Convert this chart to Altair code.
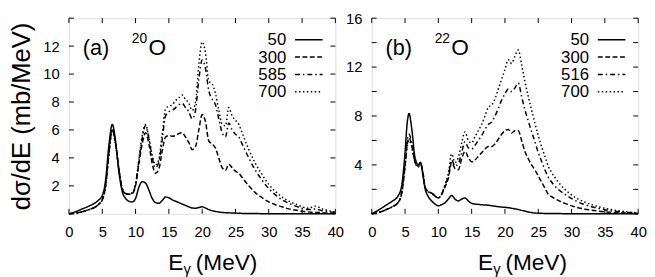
import altair as alt
import pandas as pd

FONT = "Liberation Sans"

# ---------------- data ----------------
E_A = [0, 1, 2, 3, 4, 4.5, 5, 5.5, 6, 6.5, 7, 7.5, 8, 8.5, 9, 9.5, 10, 10.5, 11, 11.5,
       12, 12.5, 13, 13.5, 14, 14.5, 15, 15.5, 16, 16.5, 17, 17.5, 18, 18.5, 19, 19.5,
       20, 20.5, 21, 21.5, 22, 22.5, 23, 23.5, 24, 24.5, 25, 25.5, 26, 27, 28, 29, 30,
       31, 32, 33, 34, 35, 36, 37, 38, 39, 40]

A_50 = [0, 0.15, 0.35, 0.55, 0.8, 1.0, 1.3, 2.4, 4.9, 6.4, 5.2, 3.0, 1.6, 1.1, 0.9, 0.85,
        1.1, 1.9, 2.3, 2.2, 1.7, 1.1, 0.8, 0.75, 0.95, 1.2, 1.15, 1.0, 0.9, 0.8, 0.7, 0.6,
        0.5, 0.42, 0.4, 0.45, 0.5, 0.42, 0.3, 0.22, 0.17, 0.13, 0.1, 0.08, 0.07, 0.06, 0.05,
        0.04, 0.03, 0.02, 0.02, 0.01, 0.01, 0.01, 0, 0, 0, 0, 0, 0, 0, 0, 0]
A_300 = [0, 0.05, 0.15, 0.3, 0.5, 0.7, 1.0, 2.0, 4.4, 6.1, 5.1, 3.2, 1.8, 1.45, 1.4, 1.45,
         2.0, 3.6, 5.0, 5.8, 5.0, 3.6, 2.9, 3.2, 4.5, 5.5, 5.6, 5.55, 5.6, 5.75, 5.8, 5.5,
         5.1, 4.6, 4.8, 6.0, 7.1, 6.6, 5.2, 5.0, 4.7, 4.0, 3.3, 3.1, 3.55, 3.3, 3.05, 2.9,
         2.6, 2.0, 1.5, 1.15, 0.85, 0.65, 0.5, 0.35, 0.27, 0.18, 0.12, 0.1, 0.08, 0.05, 0.03]
A_585 = [0, 0.05, 0.15, 0.3, 0.5, 0.7, 1.0, 2.0, 4.3, 6.0, 5.0, 3.2, 1.8, 1.45, 1.4, 1.5,
         2.1, 3.8, 5.4, 6.3, 5.4, 4.0, 3.3, 3.7, 5.3, 7.0, 7.3, 7.4, 7.6, 7.8, 7.9, 7.6,
         7.3, 6.8, 7.4, 9.6, 11.0, 10.4, 8.8, 8.2, 7.8, 6.8, 5.8, 5.5, 6.5, 6.0, 5.7, 5.5,
         5.0, 4.0, 3.1, 2.4, 1.8, 1.35, 1.0, 0.75, 0.55, 0.4, 0.3, 0.35, 0.22, 0.15, 0.1]
A_700 = [0, 0.05, 0.15, 0.3, 0.5, 0.7, 1.0, 1.9, 4.2, 5.9, 4.9, 3.2, 1.8, 1.45, 1.4, 1.5,
         2.1, 3.9, 5.6, 6.4, 5.5, 4.2, 3.5, 3.9, 5.7, 7.5, 7.7, 7.8, 8.1, 8.3, 8.5, 8.2,
         7.9, 7.4, 8.0, 10.7, 12.3, 11.5, 9.5, 9.3, 8.6, 7.4, 6.4, 6.3, 7.6, 7.0, 6.7, 6.4,
         5.8, 4.6, 3.6, 2.8, 2.1, 1.6, 1.2, 0.9, 0.7, 0.5, 0.4, 0.55, 0.35, 0.22, 0.12]

E_B = [0, 1, 2, 3, 4, 4.5, 5, 5.3, 5.6, 6, 6.5, 7, 7.3, 7.7, 8, 8.5, 9, 9.5, 10, 10.5,
       11, 11.5, 12, 12.5, 13, 13.5, 14, 14.5, 15, 15.5, 16, 16.5, 17, 17.5, 18, 18.5,
       19, 19.5, 20, 20.5, 21, 21.5, 22, 22.5, 23, 23.5, 24, 24.5, 25, 25.5, 26, 26.5,
       27, 28, 29, 30, 31, 32, 33, 34, 35, 36, 37, 38, 39, 40]

B_50 = [0, 0.3, 0.65, 1.0, 1.5, 2.3, 5.0, 7.3, 8.2, 7.0, 4.6, 4.0, 4.2, 3.1, 2.1, 1.4,
        1.05, 0.8, 0.65, 0.75, 0.9, 1.2, 1.5, 1.2, 1.05, 1.2, 1.3, 1.05, 0.85, 0.8, 0.77,
        0.74, 0.72, 0.7, 0.66, 0.62, 0.58, 0.55, 0.53, 0.5, 0.45, 0.4, 0.35, 0.28, 0.22,
        0.15, 0.1, 0.07, 0.05, 0.04, 0.03, 0.03, 0.02, 0.02, 0.01, 0.01, 0.01, 0, 0, 0, 0,
        0, 0, 0, 0, 0]
B_300 = [0, 0.1, 0.3, 0.55, 0.95, 1.7, 3.9, 5.6, 6.2, 5.6, 4.2, 3.9, 4.2, 3.3, 2.2, 1.8,
         1.7, 1.45, 1.3, 1.6, 2.2, 2.9, 4.2, 3.7, 3.6, 4.5, 5.1, 4.6, 4.25, 4.4, 4.7, 5.0,
         5.3, 5.5, 5.5, 5.7, 6.1, 6.5, 6.8, 6.9, 6.6, 6.8, 6.8, 6.0, 5.1, 4.5, 4.0, 3.6,
         3.1, 2.6, 2.1, 1.6, 1.4, 1.1, 0.85, 0.65, 0.5, 0.38, 0.3, 0.22, 0.16, 0.12, 0.09,
         0.06, 0.04, 0.03]
B_516 = [0, 0.1, 0.3, 0.55, 0.95, 1.8, 4.1, 5.9, 6.5, 5.8, 4.3, 3.9, 4.2, 3.3, 2.2, 1.8,
         1.7, 1.45, 1.3, 1.6, 2.3, 3.1, 4.4, 3.9, 4.1, 5.0, 5.9, 5.4, 5.3, 5.6, 6.0, 6.4,
         6.9, 7.3, 7.5, 8.0, 8.6, 9.3, 9.8, 10.2, 10.0, 10.3, 10.7, 9.6, 8.5, 7.6, 6.7, 5.9,
         5.0, 4.3, 3.6, 3.0, 2.6, 2.0, 1.6, 1.25, 0.95, 0.75, 0.58, 0.45, 0.33, 0.25, 0.18,
         0.13, 0.09, 0.06]
B_700 = [0, 0.1, 0.3, 0.55, 0.95, 1.7, 3.8, 5.4, 6.0, 5.5, 4.2, 3.8, 4.1, 3.3, 2.2, 1.8,
         1.7, 1.45, 1.3, 1.6, 2.4, 3.3, 4.9, 4.2, 4.6, 5.8, 6.7, 6.0, 5.8, 6.3, 6.8, 7.3,
         8.0, 8.7, 8.9, 9.4, 10.2, 11.0, 11.8, 12.6, 12.3, 12.9, 13.4, 12.2, 10.8, 9.6, 8.5,
         7.4, 6.4, 5.5, 4.7, 3.9, 3.4, 2.6, 2.0, 1.55, 1.2, 0.95, 0.75, 0.58, 0.45, 0.35,
         0.25, 0.18, 0.12, 0.08]

LABELS_A = ["50", "300", "585", "700"]
LABELS_B = ["50", "300", "516", "700"]
X_TICKS = [0, 5, 10, 15, 20, 25, 30, 35, 40]
Y_TICKS_A = [0, 2, 4, 6, 8, 10, 12, 14]
Y_LABELS_A = [2, 4, 6, 8, 10, 12]
Y_TICKS_B = [0, 2, 4, 6, 8, 10, 12, 14, 16]
Y_LABELS_B = [4, 8, 12, 16]

# ---------------- styling ----------------
W, H = 271, 199
DASHES = [[1, 0], [5, 2.5], [5, 3, 1.5, 3], [1.5, 2.5]]


def make_panel(E, series, labels, tag, mass, ymax, yticks, ylabels, ytitle, xtitle_x):
    rows = []
    for lab, vals in zip(labels, series):
        for e, v in zip(E, vals):
            rows.append({"E": e, "v": v, "s": lab})
    df = pd.DataFrame(rows)

    xs = alt.Scale(domain=[0, 40], nice=False, zero=False)
    ys = alt.Scale(domain=[0, ymax], nice=False)
    xaxis = alt.Axis(values=X_TICKS, ticks=False, tickSize=0, domain=False, grid=False,
                     labelFontSize=15, labelFont=FONT, labelColor="black", labelPadding=11,
                     labelFlush=False, title=None)
    yaxis_kw = dict(values=ylabels, ticks=False, tickSize=0, domain=False, grid=False,
                    labelFontSize=15, labelFont=FONT, labelColor="black", labelPadding=10)
    if ytitle:
        yaxis = alt.Axis(title=ytitle, titleFontSize=26, titleFont=FONT,
                         titleFontWeight="normal", titleColor="black", titlePadding=8,
                         **yaxis_kw)
    else:
        yaxis = alt.Axis(title=None, **yaxis_kw)

    X = alt.X("E:Q", scale=xs, axis=xaxis)
    Y = alt.Y("v:Q", scale=ys, axis=yaxis)

    lines = alt.Chart(df).mark_line(color="black", strokeWidth=1.5,
                                    interpolate="monotone").encode(
        x=X, y=Y,
        strokeDash=alt.StrokeDash("s:N", scale=alt.Scale(domain=labels, range=DASHES),
                                  legend=None),
        detail="s:N",
    )

    xt = pd.DataFrame({"E": X_TICKS})
    yt = pd.DataFrame({"v": yticks})
    tick_top = alt.Chart(xt).mark_rule(color="black", strokeWidth=1).encode(
        x=X, y=alt.value(0), y2=alt.value(5))
    tick_bot = alt.Chart(xt).mark_rule(color="black", strokeWidth=1).encode(
        x=X, y=alt.value(H), y2=alt.value(H - 5))
    tick_left = alt.Chart(yt).mark_rule(color="black", strokeWidth=1).encode(
        y=Y, x=alt.value(0), x2=alt.value(5))
    tick_right = alt.Chart(yt).mark_rule(color="black", strokeWidth=1).encode(
        y=Y, x=alt.value(W - 5), x2=alt.value(W))

    one = pd.DataFrame({"k": [0]})
    layers = [lines, tick_top, tick_bot, tick_left, tick_right]

    def txt(s, x, y, size, align="left", baseline="alphabetic"):
        return alt.Chart(one).mark_text(text=s, font=FONT, fontSize=size, color="black",
                                        align=align, baseline=baseline).encode(
            x=alt.value(x), y=alt.value(y))

    # panel tag and nucleus
    layers.append(txt(tag, 14, 37, 22))
    layers.append(txt(mass, 64, 25, 14))
    layers.append(txt("O", 81, 37.5, 23))

    # legend
    for i, lab in enumerate(labels):
        yy = 22 + 17.6 * i
        layers.append(txt(lab, 221, yy + 0.5, 17, align="right", baseline="middle"))
        layers.append(alt.Chart(one).mark_rule(color="black", strokeWidth=1.5,
                                               strokeDash=DASHES[i]).encode(
            x=alt.value(230), x2=alt.value(258), y=alt.value(yy), y2=alt.value(yy)))

    # x axis title  E_gamma (MeV)
    layers.append(txt("E", xtitle_x, H + 57, 23))
    layers.append(txt("γ", xtitle_x + 15.5, H + 61, 15))
    layers.append(txt("(MeV)", xtitle_x + 28, H + 57, 23))

    return alt.layer(*layers).properties(width=W, height=H)


panel_a = make_panel(E_A, [A_50, A_300, A_585, A_700], LABELS_A, "(a)", "20", 14,
                     Y_TICKS_A, Y_LABELS_A, "dσ/dE (mb/MeV)", 101)
panel_b = make_panel(E_B, [B_50, B_300, B_516, B_700], LABELS_B, "(b)", "22", 16,
                     Y_TICKS_B, Y_LABELS_B, None, 108)

chart = alt.hconcat(panel_a, panel_b, spacing=37, bounds="flush").resolve_scale(
    strokeDash="independent"
).properties(
    padding={"left": 0, "top": 0, "right": 0, "bottom": 0}
).configure_view(stroke="black", strokeWidth=1).configure(background="white")

chart.save("out.html", embed_options={"renderer": "svg", "actions": False})
